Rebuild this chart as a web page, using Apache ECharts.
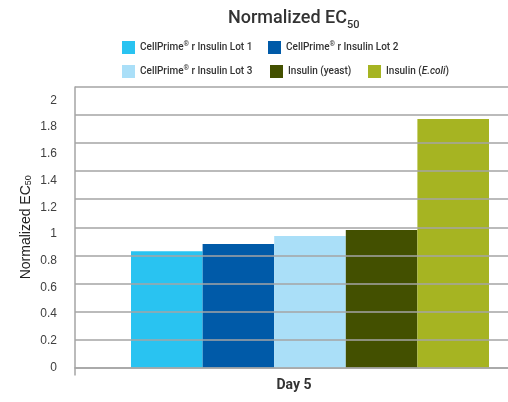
<!DOCTYPE html>
<html>
<head>
<meta charset="utf-8">
<script src="https://cdn.jsdelivr.net/npm/echarts@6/dist/echarts.min.js"></script>
<style>
html,body{margin:0;padding:0;background:#fff;}
#chart{width:508px;height:402px;}
</style>
</head>
<body>
<div id="chart"></div>
<script>
const categories = ['Day 5'];
const seriesNames = [
  'CellPrime® r Insulin Lot 1',
  'CellPrime® r Insulin Lot 2',
  'CellPrime® r Insulin Lot 3',
  'Insulin (yeast)',
  'Insulin (E.coli)'
];
const lot1Values = [0.87];
const lot2Values = [0.925];
const lot3Values = [0.985];
const yeastValues = [1.03];
const ecoliValues = [1.86];
const seriesValues = [lot1Values, lot2Values, lot3Values, yeastValues, ecoliValues];
const colors = ['#29c3f1', '#005aa8', '#aadff8', '#435000', '#a6b422'];

const gridGray = '#a5a5a5';
const legendFont = 'Roboto';

function legendFormatter(name) {
  if (name.indexOf('CellPrime®') === 0) {
    return '{n|CellPrime}{r|®}{n|' + name.slice('CellPrime®'.length) + '}';
  }
  if (name === 'Insulin (E.coli)') {
    return '{n|Insulin (}{i|E.coli}{n|)}';
  }
  return '{n|' + name + '}';
}
const legendRich = {
  n: {fontSize: 10, fontWeight: 500, fontFamily: legendFont, color: '#333', lineHeight: 13},
  r: {fontSize: 7, fontFamily: legendFont, color: '#333', verticalAlign: 'top', lineHeight: 9},
  i: {fontSize: 10, fontWeight: 500, fontStyle: 'italic', fontFamily: legendFont, color: '#333', lineHeight: 13}
};
const legendPos = [[122, 41], [268, 41], [122, 65], [270, 65], [368, 65]];

const legends = seriesNames.map((nm, i) => ({
  data: [nm],
  left: legendPos[i][0],
  top: legendPos[i][1],
  padding: 0,
  itemWidth: 13,
  itemHeight: 13,
  icon: 'rect',
  selectedMode: false,
  formatter: legendFormatter,
  textStyle: {rich: legendRich}
}));

const chart = echarts.init(document.getElementById('chart'));
chart.setOption({
  animation: false,
  backgroundColor: '#fff',
  title: {
    text: '{a|Normalized EC}{b|50}',
    left: 228,
    top: 9,
    padding: 0,
    textStyle: {
      rich: {
        a: {fontSize: 18, fontWeight: 500, fontFamily: legendFont, color: '#333', lineHeight: 22, padding: [0, 0, 3, 0]},
        b: {fontSize: 11, fontWeight: 500, fontFamily: legendFont, color: '#333', lineHeight: 12, verticalAlign: 'bottom'}
      }
    }
  },
  legend: legends,
  grid: {left: 75, right: -37, top: 87, bottom: 34.5, outerBoundsMode: 'none', containLabel: false},
  xAxis: {
    type: 'category',
    data: categories,
    axisLine: {show: true, lineStyle: {color: gridGray, width: 1.5}},
    axisTick: {show: true, length: 8, lineStyle: {color: gridGray, width: 1.5}},
    axisLabel: {
      margin: 11,
      fontSize: 14,
      fontWeight: 'bold',
      fontFamily: legendFont,
      color: '#333',
      padding: [0, 32, 0, 0]
    }
  },
  yAxis: [
    {
      type: 'value',
      min: 0,
      max: 2.1,
      interval: 0.2,
      position: 'left',
      z: 6,
      axisLine: {show: true, lineStyle: {color: gridGray, width: 1.5}},
      axisTick: {show: false},
      splitLine: {show: false},
      axisLabel: {
        showMaxLabel: false,
        margin: 18,
        fontSize: 12,
        fontFamily: 'Liberation Sans',
        color: '#404040'
      },
      name: 'Normalized EC{s|50}',
      nameLocation: 'middle',
      nameGap: 42,
      nameMoveOverlap: false,
      nameTextStyle: {
        fontSize: 14,
        fontFamily: 'Liberation Sans',
        color: '#222',
        rich: {
          s: {fontSize: 9, fontFamily: 'Liberation Sans', color: '#222', verticalAlign: 'bottom', lineHeight: 10}
        }
      }
    },
    {
      type: 'value',
      min: 0,
      max: 2,
      interval: 0.2,
      position: 'left',
      z: 5,
      axisLine: {show: false},
      axisTick: {show: false},
      axisLabel: {show: false},
      splitLine: {show: true, lineStyle: {color: gridGray, width: 1.5}}
    }
  ],
  series: seriesNames.map((nm, i) => ({
    name: nm,
    type: 'bar',
    yAxisIndex: 0,
    data: seriesValues[i],
    barWidth: 71.6,
    barGap: '0%',
    itemStyle: {color: colors[i]},
    z: 2
  }))
});
</script>
</body>
</html>
